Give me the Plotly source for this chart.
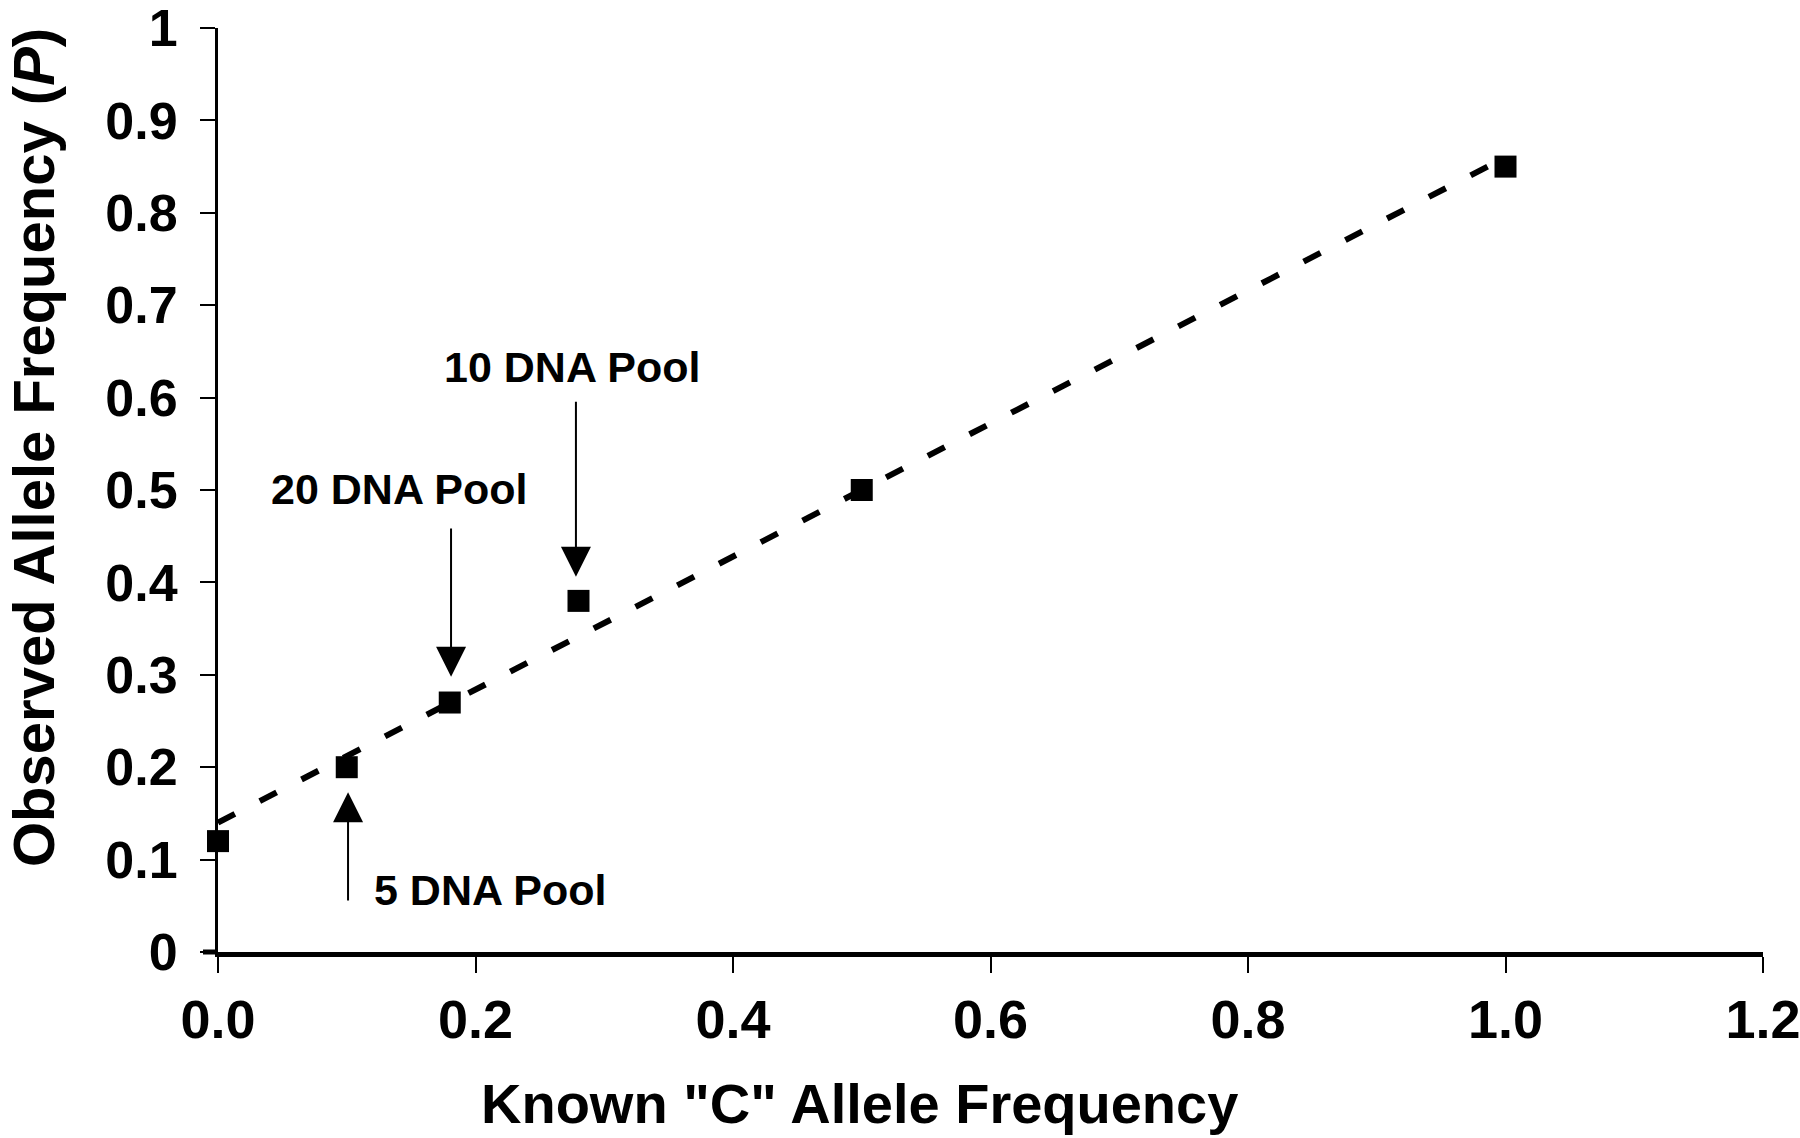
import plotly.graph_objects as go

# ---- data ----
known_freq = [0.0, 0.1, 0.18, 0.28, 0.5, 1.0]
observed_freq = [0.12, 0.20, 0.27, 0.38, 0.50, 0.85]

trend_x = [0.0, 1.0]
trend_y = [0.14, 0.86]

pool_labels = ["10 DNA Pool", "20 DNA Pool", "5 DNA Pool"]
label_x = [0.275, 0.1405, 0.212]
label_y = [0.633, 0.501, 0.067]

arrow_x = [0.278, 0.181, 0.101]
arrow_tail_y = [0.597, 0.46, 0.054]
arrow_tip_y = [0.406, 0.298, 0.173]

x_ticks = [0.0, 0.2, 0.4, 0.6, 0.8, 1.0, 1.2]
y_ticks = [0, 0.1, 0.2, 0.3, 0.4, 0.5, 0.6, 0.7, 0.8, 0.9, 1]

FONT = "Liberation Sans, Arial, Helvetica, sans-serif"

fig = go.Figure()

fig.add_trace(go.Scatter(
    x=trend_x, y=trend_y, mode="lines",
    line=dict(color="black", width=6, dash="19px,28px"),
    hoverinfo="skip", showlegend=False, cliponaxis=False,
))
fig.add_trace(go.Scatter(
    x=known_freq, y=observed_freq, mode="markers",
    marker=dict(symbol="square", size=22, color="black"),
    showlegend=False, cliponaxis=False,
))

annotations = []
for t, lx, ly in zip(pool_labels, label_x, label_y):
    annotations.append(dict(
        x=lx, y=ly, xref="x", yref="y", text=t, showarrow=False,
        xanchor="center", yanchor="middle",
        font=dict(family=FONT, size=43, color="black", weight="bold"),
    ))
for ax_, tail, tip in zip(arrow_x, arrow_tail_y, arrow_tip_y):
    annotations.append(dict(
        x=ax_, y=tip, ax=ax_, ay=tail, xref="x", yref="y",
        axref="x", ayref="y", text="", showarrow=True,
        arrowhead=2, arrowwidth=2, arrowsize=3.0, arrowcolor="black",
        standoff=0,
    ))

# axis titles
annotations.append(dict(
    x=(859 - 218) / 1545, y=(952 - 1103) / 924, xref="paper", yref="paper",
    text='Known "C" Allele Frequency', showarrow=False,
    xanchor="center", yanchor="middle",
    font=dict(family=FONT, size=56, color="black", weight="bold"),
))
annotations.append(dict(
    x=(33 - 218) / 1545, y=(952 - 448) / 924, xref="paper", yref="paper",
    text="Observed Allele Frequency (<i>P</i>)", showarrow=False,
    textangle=-90, xanchor="center", yanchor="middle",
    font=dict(family=FONT, size=58, color="black", weight="bold"),
))

fig.update_layout(
    width=1800, height=1138,
    margin=dict(l=218, r=37, t=28, b=186, autoexpand=False),
    paper_bgcolor="white", plot_bgcolor="white",
    annotations=annotations,
    shapes=[dict(type="line", xref="paper", yref="paper",
                 x0=-15 / 1545, x1=0, y0=0, y1=0,
                 line=dict(color="black", width=5))],
)

fig.update_xaxes(
    range=[0, 1.2], tickvals=x_ticks, tickformat=".1f",
    showgrid=False, zeroline=False, automargin=False,
    showline=True, linecolor="black", linewidth=5,
    ticks="outside", ticklen=16, tickwidth=2, tickcolor="black",
    tickfont=dict(family=FONT, size=54, color="black", weight="bold"),
    ticklabelstandoff=0, ticklabeloverflow="allow",
)
fig.update_yaxes(
    range=[0, 1], tickvals=y_ticks,
    showgrid=False, zeroline=False, automargin=False,
    showline=True, linecolor="black", linewidth=3,
    ticks="outside", ticklen=15, tickwidth=2, tickcolor="black",
    tickfont=dict(family=FONT, size=52, color="black", weight="bold"),
    ticklabelstandoff=12, ticklabeloverflow="allow",
)

fig.write_html("out.html")
